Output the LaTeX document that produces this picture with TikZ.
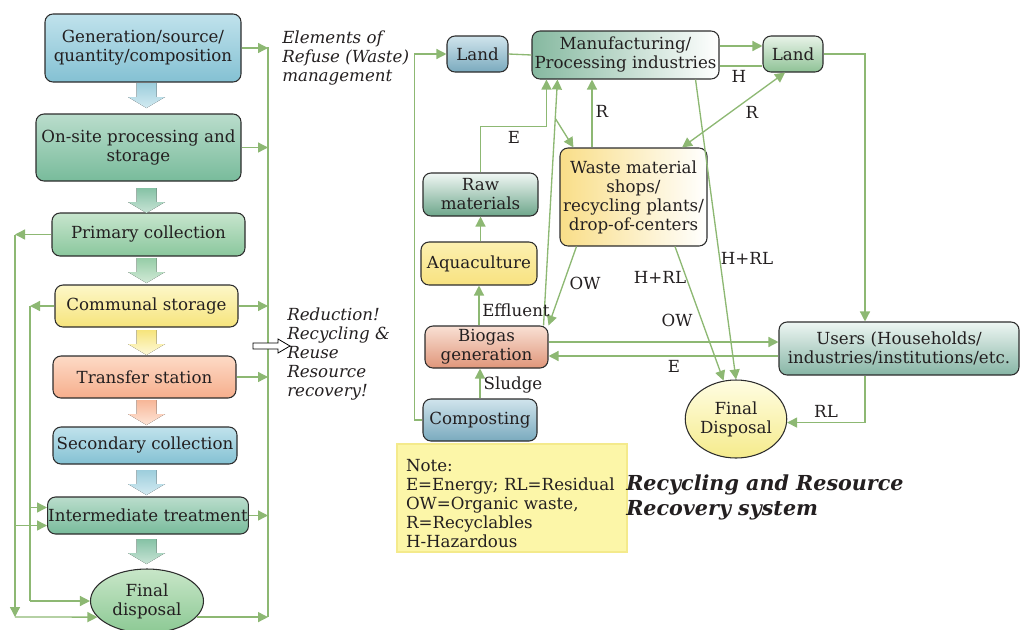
\documentclass[tikz,border=0pt]{standalone}
\usepackage{fontspec}
\setmainfont{DejaVu Serif}
\usetikzlibrary{arrows.meta,calc,shapes.geometric}

\definecolor{lc}{RGB}{141,184,115}
\definecolor{txt}{RGB}{35,31,32}
\definecolor{edge}{RGB}{45,45,45}
\definecolor{blT}{RGB}{192,226,236}
\definecolor{blB}{RGB}{132,193,211}
\definecolor{tgT}{RGB}{186,221,204}
\definecolor{tgB}{RGB}{120,187,155}
\definecolor{gT}{RGB}{199,229,205}
\definecolor{gB}{RGB}{138,199,157}
\definecolor{yT}{RGB}{253,247,200}
\definecolor{yB}{RGB}{246,228,124}
\definecolor{oT}{RGB}{253,218,198}
\definecolor{oB}{RGB}{246,174,140}
\definecolor{fdT}{RGB}{200,230,200}
\definecolor{fdB}{RGB}{140,201,148}
\definecolor{slT}{RGB}{208,228,236}
\definecolor{slB}{RGB}{122,170,190}
\definecolor{mfL}{RGB}{134,185,160}
\definecolor{ldT}{RGB}{232,243,232}
\definecolor{ldB}{RGB}{143,194,150}
\definecolor{wsL}{RGB}{249,222,136}
\definecolor{rwT}{RGB}{240,247,244}
\definecolor{rwB}{RGB}{110,166,139}
\definecolor{aqT}{RGB}{252,240,176}
\definecolor{aqB}{RGB}{248,226,128}
\definecolor{bgT}{RGB}{249,224,212}
\definecolor{bgB}{RGB}{224,150,122}
\definecolor{usT}{RGB}{238,246,243}
\definecolor{usB}{RGB}{134,181,165}
\definecolor{dpT}{RGB}{255,253,226}
\definecolor{dpB}{RGB}{245,235,140}
\definecolor{noteF}{RGB}{252,246,168}
\definecolor{noteD}{RGB}{244,234,140}

\newcommand\bodyfont{\fontsize{12.5}{14.25}\selectfont}
\newcommand\titlefont{\fontsize{15.5}{18.2}\selectfont\bfseries\itshape}

% downward block arrow between two boxes of the left column
\newcommand\blockdown[4]{%
  \fill[top color=#3, bottom color=#4]
    (#1-10,#2) -- (#1+10,#2) -- (#1+10,#2+14) -- (#1+18.5,#2+14)
    -- (#1,#2+25) -- (#1-18.5,#2+14) -- (#1-10,#2+14) -- cycle;}

\tikzset{
  conn/.style={draw=lc, line width=1pt},
  arr/.style={conn, -{Triangle[length=7.5pt,width=7.5pt]}},
  darr/.style={conn, {Triangle[length=7.5pt,width=7.5pt]}-{Triangle[length=7.5pt,width=7.5pt]}},
  sz/.style 2 args={minimum width=#1*0.75pt, minimum height=#2*0.75pt},
  vshade/.style 2 args={top color=#1, bottom color=#2},
  hshade/.style 2 args={left color=#1, right color=#2},
  box/.style={draw=edge, line width=0.8pt, rounded corners=6pt, align=center,
    text=txt, font=\bodyfont, inner sep=0.5pt},
  oval/.style={draw=edge, line width=0.8pt, ellipse, align=center,
    text=txt, font=\bodyfont, inner sep=0pt},
  lbl/.style={text=txt, font=\bodyfont, inner sep=0pt},
  itl/.style={text=txt, font=\bodyfont\itshape, align=left, inner sep=0pt},
}

\begin{document}
\begin{tikzpicture}[x=0.75pt,y=-0.75pt]
\useasboundingbox (0,0) rectangle (1020,629);

% ---------------- elements of refuse management ----------------
\node[box, sz={196}{68}, vshade={blT}{blB}] (gen) at (143,48) {Generation/source/\\quantity/composition};
\node[box, sz={205}{67}, vshade={tgT}{tgB}] (onsite) at (138.5,147.5) {On-site processing and\\storage};
\node[box, sz={193}{43}, vshade={gT}{gB}] (pc) at (148.5,234.5) {Primary collection};
\node[box, sz={183}{42}, vshade={yT}{yB}] (cs) at (146.5,306) {Communal storage};
\node[box, sz={183}{42}, vshade={oT}{oB}] (ts) at (144.5,377) {Transfer station};
\node[box, sz={184}{37}, vshade={blT}{blB}] (sc) at (145,445.5) {Secondary collection};
\node[box, sz={200}{37}, vshade={tgT}{tgB}] (it) at (148,515.5) {Intermediate treatment};
\node[oval, sz={113}{64}, vshade={fdT}{fdB}] (fd) at (147,601) {Final\\disposal};

\blockdown{146.5}{83}{blB!80}{blT!70}
\blockdown{146.5}{188}{tgB!90}{tgT!80}
\blockdown{146.5}{258}{gB!90}{gT!80}
\blockdown{146.5}{330}{yB}{yT!70}
\blockdown{146.5}{400}{oB!90}{oT!70}
\blockdown{146.5}{470}{blB!80}{blT!70}
\blockdown{146.5}{539}{tgB!90}{tgT!80}

% collecting line on the right
\coordinate (rbus) at (268,47);
\coordinate (rbusend) at (268,617);
\draw[conn] (rbus) -- (rbusend);
\draw[arr] (gen.east) -- (gen.east -| rbus);
\draw[arr] (onsite.east) -- (onsite.east -| rbus);
\draw[arr] (cs.east) -- (cs.east -| rbus);
\draw[arr] (ts.east) -- (ts.east -| rbus);
\draw[arr] (it.east) -- (it.east -| rbus);
\draw[arr] (fd.-18) -- (fd.-18 -| rbus);

% bypass lines on the left
\coordinate (lbA) at (15,617);
\coordinate (lbB) at (30,0);
\draw[arr] (pc.west) -- (pc.west -| lbA);
\draw[arr] (pc.west -| lbA) -- (lbA);
\draw[arr] (lbA) -- (fd.198);
\draw[arr] ($(it.west -| lbA)+(0,10)$) -- ($(it.west)+(0,10)$);
\draw[arr] (cs.west) -- (cs.west -| lbB);
\draw[conn] (cs.west -| lbB) -- (lbB |- fd.west);
\draw[arr] (lbB |- fd.west) -- (fd.west);
\draw[arr] ($(it.west -| lbB)+(0,-8)$) -- ($(it.west)+(0,-8)$);

% captions of the left part
\node[itl, anchor=north west] (elem) at (282,31) {Elements of\\Refuse (Waste)\\management};
\node[itl, anchor=north west] (reduce) at (287,308) {Reduction!\\Recycling \&\\Reuse\\Resource\\recovery!};
\draw[black, line width=0.6pt, fill=white] (253,343) -- (278,343) -- (278,339) -- (290,346)
  -- (278,353) -- (278,349) -- (253,349) -- cycle;

% ---------------- recycling and resource recovery ----------------
\node[box, sz={61}{36}, vshade={slT}{slB}] (land1) at (477.5,54) {Land};
\node[box, sz={187}{48}, hshade={mfL}{white}] (manuf) at (625.5,55) {Manufacturing/\\Processing industries};
\node[box, sz={60}{36}, vshade={ldT}{ldB}] (land2) at (793,54) {Land};
\node[box, sz={147}{98}, hshade={wsL}{white}] (waste) at (633.5,197) {Waste material\\shops/\\recycling plants/\\drop-of-centers};
\node[box, sz={115}{43}, vshade={rwT}{rwB}] (raw) at (480.5,194.5) {Raw\\materials};
\node[box, sz={116}{43}, vshade={aqT}{aqB}] (aqua) at (479,263.5) {Aquaculture};
\node[box, sz={123}{42}, vshade={bgT}{bgB}] (biogas) at (486.5,347) {Biogas\\generation};
\node[box, sz={114}{42}, vshade={slT}{slB}] (compost) at (480,420) {Composting};
\node[box, sz={240}{53}, vshade={usT}{usB}] (users) at (899,348.5) {Users (Households/\\industries/institutions/etc.};
\node[oval, sz={82}{78}, vshade={dpT}{dpB}] (fd2) at (736,419) {Final\\Disposal};

% connectors
\draw[arr] (compost.west) -- ++(-8,0) |- (land1.west);
\draw[conn] (land1.east) -- (manuf.west);
\draw[arr] ($(manuf.east)+(0,-9)$) -- ($(land2.west)+(0,-8)$);
\draw[conn] ($(manuf.east)+(0,11)$) -- ($(land2.west)+(0,12)$);
\draw[arr] (land2.east) -| ($(users.north)+(-34,0)$);
\draw[darr] ($(land2.south)+(-8,0)$) -- ($(waste.north)+(48.5,0)$);
\coordinate (wr) at ($(waste.north)+(-41.5,0)$);
\draw[arr] (wr) -- (wr |- manuf.south);
\draw[arr] (raw.north) -- ++(0,-46) -| ($(manuf.south west)+(15,0)$);
\coordinate (bgtop) at ($(biogas.north east)+(-5,0)$);
\coordinate (mfin) at ($(manuf.south west)+(26,0)$);
\draw[arr] (bgtop) -- (mfin);
\draw[arr] ($(bgtop)!0.842!(mfin)$) -- ($(waste.north west)+(14,0)$);
\draw[arr] ($(manuf.south east)+(-24,0)$) -- (fd2.north);
\draw[arr] ($(waste.south west)+(17,0)$) -- (biogas.north east);
\draw[arr] ($(waste.south)+(41.5,0)$) -- (fd2.108);
\draw[arr] ($(biogas.east)+(0,-5)$) -- ($(users.west)+(0,-6.5)$);
\draw[arr] ($(users.west)+(0,7.5)$) -- ($(biogas.east)+(0,9)$);
\draw[arr] (aqua.south |- biogas.north) -- (aqua.south);
\draw[arr] (compost.north) -- (compost.north |- biogas.south);
\draw[arr] (aqua.north -| raw.south) -- (raw.south);
\draw[arr] ($(users.south)+(-34,0)$) |- (fd2.-4);

% connector labels
\node[lbl] (lH) at (739,76) {H};
\node[lbl] (lR1) at (752,112) {R};
\node[lbl] (lR2) at (602,111) {R};
\node[lbl] (lE1) at (514,137) {E};
\node[lbl] (lOW1) at (585,283) {OW};
\node[lbl] (lHRL1) at (660,277) {H+RL};
\node[lbl] (lHRL2) at (747,258) {H+RL};
\node[lbl] (lOW2) at (677,320) {OW};
\node[lbl] (lE2) at (674,366) {E};
\node[lbl] (lEff) at (516,310) {Effluent};
\node[lbl] (lSl) at (513,385) {Sludge};
\node[lbl] (lRL) at (826,411) {RL};

% legend and caption
\node[draw=noteD, fill=noteF, line width=1pt, sz={230}{102}, text width=212*0.75pt,
  align=left, inner xsep=9*0.75pt, text=txt, font=\bodyfont] (note) at (512,498)
  {\rule{0pt}{17pt}Note:\\E=Energy; RL=Residual\\OW=Organic waste,\\R=Recyclables\\H-Hazardous};
\node[text=txt, font=\titlefont, align=left, inner sep=0pt, anchor=north west] (title) at (626,475)
  {Recycling and Resource\\Recovery system};
\end{tikzpicture}
\end{document}
